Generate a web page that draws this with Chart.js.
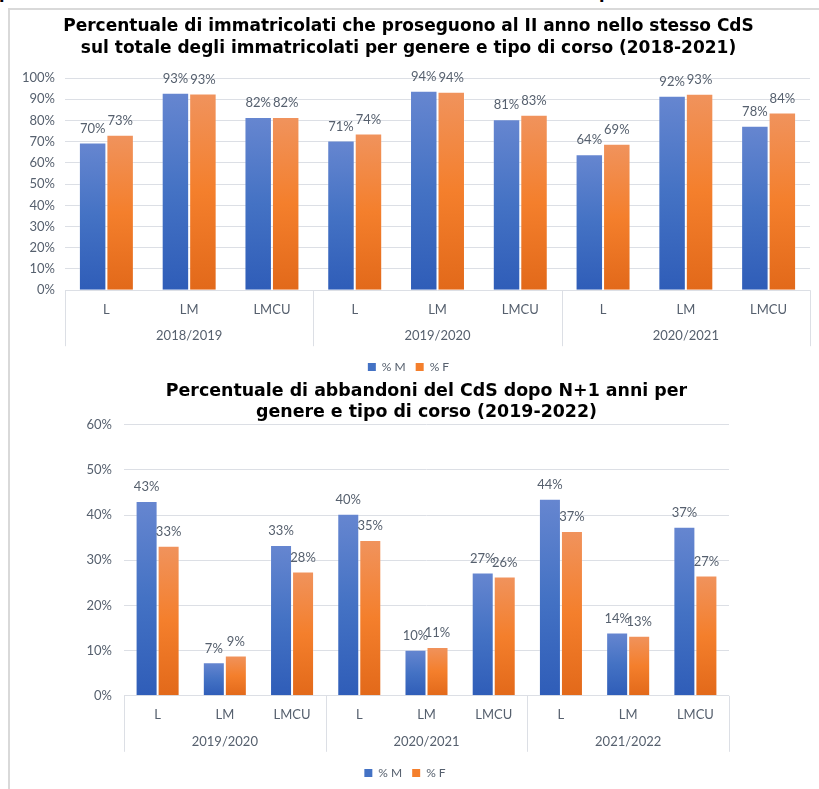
<!DOCTYPE html>
<html lang="it">
<head>
<meta charset="utf-8">
<title>Immatricolati e abbandoni per genere e tipo di corso</title>
<script src="https://cdn.jsdelivr.net/npm/chart.js@4.4.1/dist/chart.umd.min.js"></script>
<style>
  html, body { margin: 0; padding: 0; background: #ffffff; }
  body { width: 819px; height: 789px; position: relative; overflow: hidden; }
  .frame-top { position: absolute; left: 8px; top: 8px; width: 811px; height: 2px; background: #d9d9d9; }
  .frame-left { position: absolute; left: 8px; top: 8px; width: 2px; height: 781px; background: #d9d9d9; }
  .heading-tail { position: absolute; top: 0; left: 0; width: 819px; height: 4px; overflow: hidden; }
  .heading-tail span { position: absolute; top: -14px; font: bold 16px/16px "DejaVu Sans", sans-serif; color: #000; }
  canvas { position: absolute; left: 0; }
</style>
</head>
<body>
<div class="heading-tail"><span style="left:-1px">p</span><span style="left:599px">p</span></div>
<div class="frame-top"></div>
<div class="frame-left"></div>
<canvas id="chartProsecuzione" width="817" height="383" style="top:0px"></canvas>
<canvas id="chartAbbandoni" width="810" height="413" style="top:376px"></canvas>

<script>
// ---- data ----
const courseTypes = ['L', 'LM', 'LMCU'];
const seriesNames = ['% M', '% F'];

// Prosecuzione al II anno (2018-2021)
const yearsProsecuzione = ['2018/2019', '2019/2020', '2020/2021'];
const prosecuzioneM = [69.6, 93.1, 81.6, 70.6, 94.0, 80.6, 64.1, 91.6, 77.5];
const prosecuzioneF = [73.3, 92.7, 81.6, 73.8, 93.5, 82.7, 69.0, 92.6, 83.8];
const ticksProsecuzione = [0, 10, 20, 30, 40, 50, 60, 70, 80, 90, 100];

// Abbandoni dopo N+1 anni (2019-2022)
const yearsAbbandoni = ['2019/2020', '2020/2021', '2021/2022'];
const abbandoniM = [43.1, 7.4, 33.4, 40.3, 10.2, 27.3, 43.6, 14.0, 37.4];
const abbandoniF = [33.2, 8.9, 27.5, 34.5, 10.8, 26.4, 36.5, 13.3, 26.6];
const ticksAbbandoni = [0, 10, 20, 30, 40, 50, 60];

// ---- styling helpers ----
const BLUE = ['#6686d0', '#4472c4', '#2f5db8'];
const ORANGE = ['#f0935d', '#f47f2c', '#e2691a'];
const TEXT = '#56606e';
const GRID = '#dcdfe5';
const LABEL_FONT = { family: 'Lato, "Open Sans", sans-serif', size: 13 };

function categoriesFor(years) {
  const out = [];
  years.forEach(() => courseTypes.forEach(c => out.push(c)));
  return out;
}

// vertical gradient per bar: light top, saturated middle, darker base
function barFill(colors) {
  return (ctx) => {
    const chart = ctx.chart;
    const y = chart.scales && chart.scales.y;
    if (!chart.chartArea || !y || ctx.type !== 'data') return colors[1];
    const top = y.getPixelForValue(ctx.raw);
    const base = y.getPixelForValue(0);
    if (!isFinite(top) || !isFinite(base) || base - top < 1) return colors[1];
    const g = chart.ctx.createLinearGradient(0, top, 0, base);
    g.addColorStop(0, colors[0]);
    g.addColorStop(0.5, colors[1]);
    g.addColorStop(1, colors[2]);
    return g;
  };
}

// value labels above each bar
const valueLabels = {
  id: 'valueLabels',
  afterDatasetsDraw(chart) {
    const ctx = chart.ctx;
    ctx.save();
    ctx.font = `${LABEL_FONT.size}px ${LABEL_FONT.family}`;
    ctx.fillStyle = TEXT;
    ctx.textAlign = 'center';
    ctx.textBaseline = 'middle';
    chart.data.datasets.forEach((ds, di) => {
      const meta = chart.getDatasetMeta(di);
      meta.data.forEach((bar, i) => {
        ctx.fillText(Math.round(ds.data[i]) + '%', bar.x, bar.y - 14);
      });
    });
    ctx.restore();
  }
};

// second level of the category axis: year groups with separators
const groupAxis = {
  id: 'groupAxis',
  afterDraw(chart, args, opts) {
    const x = chart.scales.x;
    const ctx = chart.ctx;
    const n = courseTypes.length;
    const groups = opts.groups || [];
    const step = (x.right - x.left) / x.ticks.length;
    ctx.save();
    ctx.strokeStyle = GRID;
    ctx.lineWidth = 1;
    for (let g = 0; g <= groups.length; g++) {
      const px = Math.round(x.left + g * n * step) + 0.5;
      ctx.beginPath();
      ctx.moveTo(px, x.top);
      ctx.lineTo(px, x.top + opts.lineLength);
      ctx.stroke();
    }
    ctx.font = `${LABEL_FONT.size}px ${LABEL_FONT.family}`;
    ctx.fillStyle = TEXT;
    ctx.textAlign = 'center';
    ctx.textBaseline = 'middle';
    groups.forEach((label, g) => {
      const cx = x.left + (g * n + n / 2) * step;
      ctx.fillText(label, cx, x.top + opts.labelOffset);
    });
    ctx.restore();
  }
};

function legendLabels(chart) {
  const items = Chart.defaults.plugins.legend.labels.generateLabels(chart);
  const solid = [BLUE[1], ORANGE[1]];
  items.forEach((it, i) => {
    it.fillStyle = solid[i];
    it.strokeStyle = solid[i];
    it.lineWidth = 0;
  });
  return items;
}

function buildChart(canvasId, cfg) {
  return new Chart(document.getElementById(canvasId), {
    type: 'bar',
    data: {
      labels: categoriesFor(cfg.years),
      datasets: [
        { label: seriesNames[0], data: cfg.male, backgroundColor: barFill(BLUE),
          borderColor: 'rgba(255,255,255,0.2)', borderWidth: 1 },
        { label: seriesNames[1], data: cfg.female, backgroundColor: barFill(ORANGE),
          borderColor: 'rgba(255,255,255,0.2)', borderWidth: 1 }
      ]
    },
    options: {
      responsive: false,
      devicePixelRatio: 1,
      animation: false,
      datasets: { bar: { barPercentage: 1, categoryPercentage: cfg.barShare } },
      layout: { padding: 0 },
      scales: {
        x: {
          grid: { display: false, drawTicks: false },
          border: { display: false },
          ticks: { color: TEXT, font: LABEL_FONT, padding: cfg.tickPad, autoSkip: false, maxRotation: 0 },
          afterFit: s => { s.height = cfg.xHeight; }
        },
        y: {
          min: 0,
          max: cfg.ticks[cfg.ticks.length - 1],
          afterBuildTicks: s => { s.ticks = cfg.ticks.map(v => ({ value: v })); },
          grid: { color: GRID, lineWidth: 1, drawTicks: false },
          border: { display: false },
          ticks: { color: TEXT, font: LABEL_FONT, padding: cfg.yPad, callback: v => v + '%' },
          afterFit: s => { s.width = cfg.yWidth; }
        },
        yRight: {
          position: 'right',
          grid: { display: false, drawTicks: false },
          border: { display: false },
          ticks: { display: false },
          afterFit: s => { s.width = cfg.rightGap; }
        }
      },
      plugins: {
        title: {
          display: true,
          text: cfg.title,
          fullSize: cfg.titleFullSize,
          color: '#000000',
          font: { family: '"DejaVu Sans", Verdana, sans-serif', weight: 'bold', size: cfg.titleSize, lineHeight: cfg.titleLine / cfg.titleSize },
          padding: cfg.titlePad
        },
        legend: {
          position: 'bottom',
          labels: {
            boxWidth: 8, boxHeight: 8, padding: 10,
            color: TEXT,
            font: { family: LABEL_FONT.family, size: 12 },
            generateLabels: legendLabels
          }
        },
        tooltip: { enabled: false },
        groupAxis: { groups: cfg.years, lineLength: cfg.sepLength, labelOffset: cfg.groupOffset }
      }
    },
    plugins: [valueLabels, groupAxis]
  });
}

buildChart('chartProsecuzione', {
  title: ['Percentuale di immatricolati che proseguono al II anno nello stesso CdS',
          'sul totale degli immatricolati per genere e tipo di corso (2018-2021)'],
  titleSize: 17, titleLine: 22, titleFullSize: true,
  titlePad: { top: 15.5, bottom: 18.5 },
  years: yearsProsecuzione, male: prosecuzioneM, female: prosecuzioneF,
  ticks: ticksProsecuzione,
  barShare: 0.664, yWidth: 65, rightGap: 7, yPad: 10,
  xHeight: 60.8, tickPad: 12, sepLength: 56, groupOffset: 46
});

buildChart('chartAbbandoni', {
  title: ['Percentuale di abbandoni del CdS dopo N+1 anni per',
          'genere e tipo di corso (2019-2022)'],
  titleSize: 17.4, titleLine: 21, titleFullSize: false,
  titlePad: { top: 5, bottom: 1.7 },
  years: yearsAbbandoni, male: abbandoniM, female: abbandoniF,
  ticks: ticksAbbandoni,
  barShare: 0.655, yWidth: 124, rightGap: 81, yPad: 12,
  xHeight: 61.2, tickPad: 11, sepLength: 56, groupOffset: 46
});
</script>
</body>
</html>
